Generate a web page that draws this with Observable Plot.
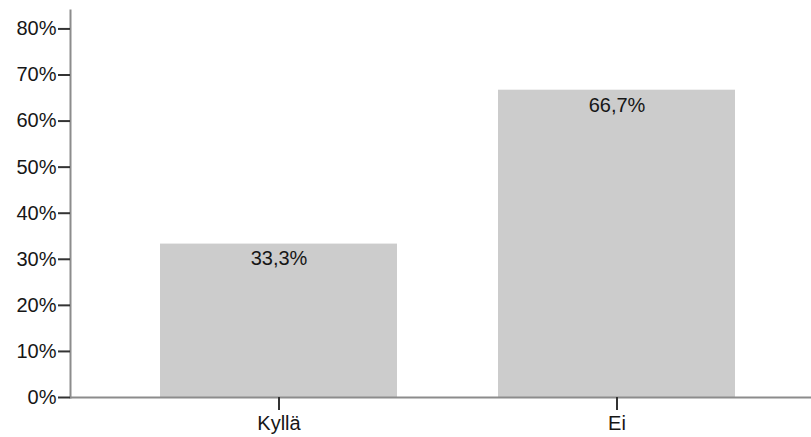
<!DOCTYPE html>
<html>
<head>
<meta charset="utf-8">
<script src="https://cdn.jsdelivr.net/npm/d3@7"></script>
<script src="https://cdn.jsdelivr.net/npm/@observablehq/plot@0.6"></script>
<style>
  html, body { margin: 0; padding: 0; background: #fff; }
  #chart svg { display: block; }
</style>
</head>
<body>
<div id="chart"></div>
<script>
// Answers and their shares (percent)
const categories = ["Kyllä", "Ei"];
const shares = [33.3, 66.7];
const yTicks = [0, 10, 20, 30, 40, 50, 60, 70, 80];

const rows = categories.map((c, i) => ({ category: c, share: shares[i] }));
const fmt = v => v.toFixed(1).replace(".", ",") + "%";

const chart = Plot.plot({
  width: 811,
  height: 437,
  marginLeft: 70,
  marginRight: 0,
  marginTop: 10,
  marginBottom: 40,
  style: { fontFamily: "'Liberation Sans', Arial, sans-serif", fontSize: "20px", color: "#161616", background: "#fff" },
  x: { domain: categories, range: [58.6, 836], padding: 0.3, label: null },
  y: { domain: [0, 84], label: null },
  marks: [
    Plot.barY(rows, { x: "category", y: "share", fill: "#cccccc" }),
    Plot.text(rows, { x: "category", y: "share", text: d => fmt(d.share), dy: 15, fontSize: 20, fill: "#161616" }),
    Plot.ruleY([0], { stroke: "#8c8c8c", strokeWidth: 2 }),
    Plot.frame({ anchor: "left", stroke: "#8c8c8c", strokeWidth: 2 }),
    Plot.axisY({ ticks: yTicks, tickFormat: d => d + "%", tickSize: 12, tickPadding: 2, stroke: "#333", strokeWidth: 2, strokeOpacity: 1, fontSize: 20, label: null }),
    Plot.axisX({ tickSize: 13, tickPadding: 5, stroke: "#333", strokeWidth: 2, strokeOpacity: 1, fontSize: 20, label: null })
  ]
});
document.getElementById("chart").appendChild(chart);
</script>
</body>
</html>
